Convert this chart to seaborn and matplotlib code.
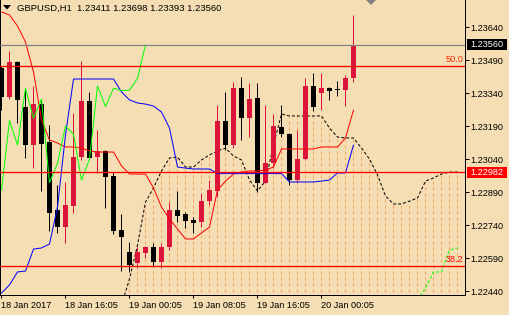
import matplotlib
matplotlib.use("Agg")
import matplotlib.pyplot as plt
from matplotlib.patches import Rectangle, Polygon
from matplotlib.transforms import blended_transform_factory
import numpy as np
import pandas as pd
import seaborn as sns

sns.set_style("white")
plt.rcParams['font.family'] = ['Liberation Sans', 'DejaVu Sans']

# ---------------- data ----------------
opens = [1.23455, 1.23325, 1.23481, 1.23280, 1.23105, 1.23291, 1.23120, 1.22810, 1.22734, 1.22828,
         1.23052, 1.23305, 1.23052, 1.23078, 1.22966, 1.22719, 1.22620, 1.22567, 1.22616, 1.22640,
         1.22575, 1.22640, 1.22810, 1.22790, 1.22764, 1.22756, 1.22852, 1.22896, 1.23216, 1.23105,
         1.23363, 1.23226, 1.23317, 1.22934, 1.23022, 1.23188, 1.23154, 1.22946, 1.23040, 1.23373,
         1.23340, 1.23363, 1.23355, 1.23355, 1.23411]
highs = [1.23464, 1.23532, 1.23487, 1.23364, 1.23373, 1.23310, 1.23196, 1.22923, 1.22938, 1.23249,
         1.23487, 1.23347, 1.23173, 1.23082, 1.22981, 1.22791, 1.22666, 1.22641, 1.22646, 1.22658,
         1.22658, 1.22847, 1.22896, 1.22802, 1.22779, 1.22888, 1.22946, 1.23287, 1.23347, 1.23393,
         1.23415, 1.23388, 1.23386, 1.23287, 1.23245, 1.23287, 1.23158, 1.23173, 1.23408, 1.23431,
         1.23434, 1.23370, 1.23396, 1.23423, 1.23698]
lows = [1.23264, 1.23314, 1.23206, 1.23047, 1.23002, 1.22896, 1.22714, 1.22704, 1.22658, 1.22797,
        1.23037, 1.23045, 1.22976, 1.22820, 1.22700, 1.22534, 1.22528, 1.22546, 1.22591, 1.22555,
        1.22546, 1.22628, 1.22756, 1.22726, 1.22704, 1.22734, 1.22832, 1.22870, 1.23082, 1.23090,
        1.23128, 1.23143, 1.22893, 1.22931, 1.23001, 1.23143, 1.22923, 1.22938, 1.23037, 1.23261,
        1.23264, 1.23310, 1.23329, 1.23282, 1.23393]
closes = [1.23325, 1.23481, 1.23310, 1.23105, 1.23291, 1.23110, 1.22797, 1.22734, 1.22832, 1.23052,
          1.23305, 1.23047, 1.23079, 1.22961, 1.22716, 1.22686, 1.22560, 1.22620, 1.22643, 1.22575,
          1.22640, 1.22810, 1.22784, 1.22761, 1.22752, 1.22851, 1.22900, 1.23216, 1.23105, 1.23363,
          1.23226, 1.23314, 1.22934, 1.23022, 1.23191, 1.23154, 1.22946, 1.23040, 1.23373, 1.23279,
          1.23363, 1.23352, 1.23354, 1.23408, 1.23560]

tenkan = [1.23710, 1.23696, 1.23646, 1.23573, 1.23437, 1.23219, 1.23128, 1.23114, 1.23096, 1.23096,
          1.23091, 1.23078, 1.23073, 1.23073, 1.23073, 1.23010, 1.22973, 1.22973, 1.22973, 1.22910,
          1.22823, 1.22769, 1.22723, 1.22678, 1.22678, 1.22705, 1.22732, 1.22900, 1.22941, 1.22973,
          1.22982, 1.22987, 1.22987, 1.22991, 1.23005, 1.23087, 1.23087, 1.23087, 1.23087, 1.23087,
          1.23096, 1.23096, 1.23096, 1.23137, 1.23264]
kijun = [1.22432, 1.22469, 1.22528, 1.22532, 1.22632, 1.22637, 1.22655, 1.22823, 1.23151, 1.23405,
         1.23405, 1.23405, 1.23405, 1.23405, 1.23405, 1.23346, 1.23310, 1.23296, 1.23291, 1.23282,
         1.23255, 1.23182, 1.23005, 1.23000, 1.22996, 1.22996, 1.22996, 1.22975, 1.22975, 1.22975,
         1.22975, 1.22975, 1.22975, 1.22975, 1.22975, 1.22975, 1.22937, 1.22937, 1.22937, 1.22937,
         1.22941, 1.22946, 1.22978, 1.22978, 1.23105]
chikou_shift = 26

senkou_start = 15
senkou = [1.22378, 1.22496, 1.22650, 1.22846, 1.22910, 1.22987, 1.23046, 1.23050, 1.23005, 1.23005,
          1.23037, 1.23060, 1.23078, 1.23091, 1.23055, 1.23037, 1.22946, 1.22896, 1.22941, 1.23105,
          1.23246, 1.23237, 1.23237, 1.23237, 1.23237, 1.23237, 1.23182, 1.23141, 1.23137, 1.23137,
          1.23091, 1.23041, 1.22969, 1.22873, 1.22837, 1.22837, 1.22850, 1.22864, 1.22941, 1.22955,
          1.22973, 1.22982, 1.22982]
cloud_start = 16
lime_start = 52
lime_span = [1.22400, 1.22455, 1.22528, 1.22528, 1.22628, 1.22637]

bid_price = 1.23560
line_price = 1.22982
fib_50 = 1.23463
fib_382 = 1.22555

ytick_vals = [1.22440, 1.22590, 1.22740, 1.22890, 1.23040, 1.23190, 1.23340, 1.23490, 1.23640]
xtick_pos = [0, 8, 16, 24, 32, 40]
xtick_labels = ['18 Jan 2017', '18 Jan 16:05', '19 Jan 00:05', '19 Jan 08:05',
                '19 Jan 16:05', '20 Jan 00:05']
header = 'GBPUSD,H1  1.23411 1.23698 1.23393 1.23560'

# ---------------- style ----------------
BG = '#F5DEB3'
CANDLE_UP = '#DC143C'
CANDLE_DN = '#000000'
PX = 0.72  # one pixel in points at 100 dpi
FS = 6.6

W, H = 510, 315
fig = plt.figure(figsize=(W / 100, H / 100), dpi=100, facecolor=BG)
ax = fig.add_axes([0, (H - 295) / H, 465 / W, 295 / H])
ax.set_facecolor(BG)

ytop = 1.237641
ybot = ytop - 295 / 22000
ax.set_xlim((0 - 1.5) / 8, (465 - 1.5) / 8)
ax.set_ylim(ybot, ytop)

# cloud hatching
kc = np.arange(cloud_start, senkou_start + len(senkou))
top_vals = np.array(senkou)[cloud_start - senkou_start:]
ax.vlines(kc, ybot - 0.001, top_vals, colors='#F4A460', linewidth=PX,
          linestyles=[(0, (3, 3))], zorder=1)

# senkou span (black dashed)
sdf = pd.DataFrame({'x': np.arange(senkou_start, senkou_start + len(senkou)), 'y': senkou})
sns.lineplot(data=sdf, x='x', y='y', ax=ax, color='black', linewidth=PX,
             linestyle=(0, (3, 2)), estimator=None, sort=False, zorder=2)
ldf = pd.DataFrame({'x': np.arange(lime_start, lime_start + len(lime_span)), 'y': lime_span})
sns.lineplot(data=ldf, x='x', y='y', ax=ax, color='#00FF00', linewidth=PX,
             linestyle=(0, (3, 2)), estimator=None, sort=False, zorder=2)

# candles
idx = np.arange(len(opens))
o = np.array(opens); c = np.array(closes); hi = np.array(highs); lo = np.array(lows)
cols = [CANDLE_UP if cc >= oo else CANDLE_DN for oo, cc in zip(o, c)]
ax.vlines(idx, lo, hi, colors=cols, linewidth=PX, zorder=3)
body_bot = np.minimum(o, c)
body_h = np.maximum(np.abs(c - o), 1 / 22000)
ax.bar(idx, body_h, bottom=body_bot, width=5 / 8, color=cols, linewidth=0, zorder=3)

# indicator lines
tdf = pd.DataFrame({'x': idx, 'tenkan': tenkan, 'kijun': kijun})
sns.lineplot(data=tdf, x='x', y='tenkan', ax=ax, color='#FF0000', linewidth=PX,
             estimator=None, sort=False, zorder=4)
sns.lineplot(data=tdf, x='x', y='kijun', ax=ax, color='#0000FF', linewidth=PX,
             estimator=None, sort=False, zorder=4)
chk = closes[chikou_shift:]
cdf = pd.DataFrame({'x': np.arange(len(chk)), 'y': chk})
sns.lineplot(data=cdf, x='x', y='y', ax=ax, color='#00FF00', linewidth=PX,
             estimator=None, sort=False, zorder=4)

# horizontal lines
ax.axhline(bid_price, color='#808080', linewidth=PX * 1.2, zorder=5)
for lvl in (fib_50, line_price, fib_382):
    ax.axhline(lvl, color='#FF0000', linewidth=PX * 1.3, zorder=5)

tr_ax = blended_transform_factory(ax.transAxes, ax.transData)
ax.text(463.5 / 465, fib_50 + 2.5 / 22000, '50.0', transform=tr_ax, ha='right', va='bottom',
        color='#FF2A00', fontsize=FS, zorder=6)
ax.text(463.5 / 465, fib_382 + 2.5 / 22000, '38.2', transform=tr_ax, ha='right', va='bottom',
        color='#FF0000', fontsize=FS, zorder=6)

# axes / spines
ax.set_xlabel(''); ax.set_ylabel('')
for s in ('left', 'right', 'bottom'):
    ax.spines[s].set_visible(True)
    ax.spines[s].set_color('black')
    ax.spines[s].set_linewidth(PX)
ax.spines['top'].set_visible(False)

ax.yaxis.tick_right()
ax.set_yticks(ytick_vals)
ax.set_yticklabels([f'{v:.5f}' for v in ytick_vals])
ax.tick_params(axis='y', which='both', right=True, left=False, direction='out',
               length=2.9, width=PX, pad=1.2, labelsize=FS, colors='black')
ax.set_xticks(xtick_pos)
ax.set_xticklabels(xtick_labels, ha='left')
ax.tick_params(axis='x', which='both', bottom=True, direction='out', length=2.5,
               width=PX, pad=1.8, labelsize=FS, colors='black')
for lab in ax.get_xticklabels():
    lab.set_horizontalalignment('left')

# price tags on the right
tr_fig = blended_transform_factory(fig.transFigure, ax.transData)
for price, fc in ((bid_price, '#000000'), (line_price, '#FF0000')):
    ax.add_patch(Rectangle((467 / W, price - 5.5 / 22000), 40 / W, 11 / 22000,
                           transform=tr_fig, facecolor=fc, edgecolor='none',
                           clip_on=False, zorder=7))
    ax.text(487 / W, price, f'{price:.5f}', transform=tr_fig, ha='center', va='center',
            color='white', fontsize=FS, zorder=8, clip_on=False)

# header
fig.text(17 / W, 1 - 10.7 / H, header, ha='left', va='baseline', fontsize=6.8, color='black')
fig.patches.append(Polygon([(3 / W, 1 - 5 / H), (11 / W, 1 - 5 / H), (7 / W, 1 - 9.5 / H)],
                           closed=True, transform=fig.transFigure, facecolor='black',
                           edgecolor='none'))
fig.patches.append(Polygon([(366 / W, 1.0), (376 / W, 1.0), (371 / W, 1 - 5 / H)],
                           closed=True, transform=fig.transFigure, facecolor='#808080',
                           edgecolor='none'))

fig.savefig('out.png', dpi=100, facecolor=BG)
